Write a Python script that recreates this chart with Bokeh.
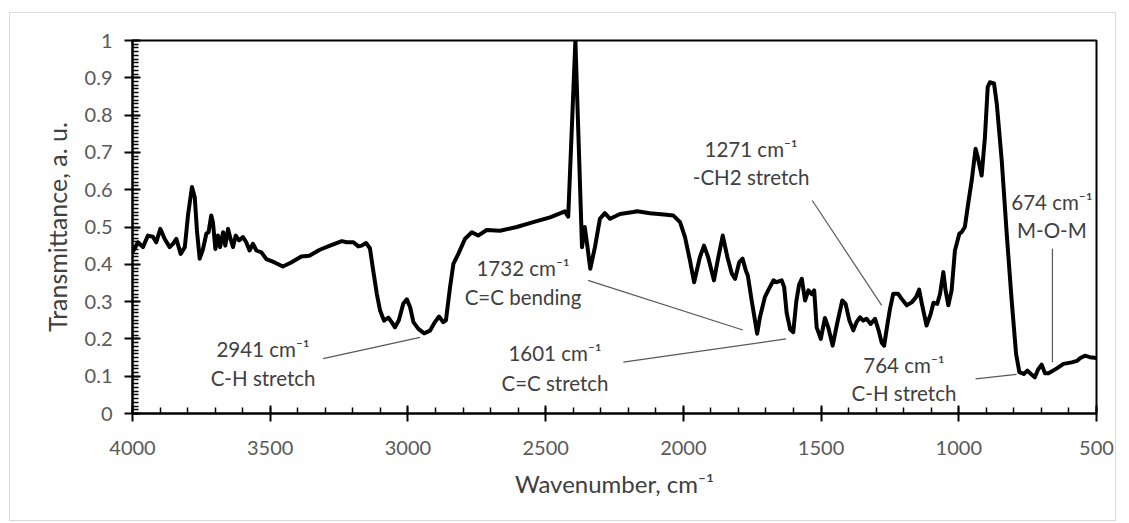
from bokeh.plotting import figure
from bokeh.models import Range1d, FixedTicker, ColumnDataSource
from bokeh.core.properties import value
from bokeh.embed import file_html
from bokeh.resources import INLINE

# FTIR spectrum: wavenumber (cm^-1) and transmittance (a.u.)
wavenumber = [
    4000, 3980, 3962, 3944, 3926, 3914, 3899, 3883, 3865, 3853,
    3841, 3825, 3810, 3798, 3784, 3774, 3766, 3756, 3744, 3732,
    3724, 3714, 3708, 3699, 3690, 3682, 3671, 3663, 3653, 3644,
    3635, 3625, 3613, 3599, 3587, 3575, 3563, 3550, 3532, 3514,
    3484, 3454, 3424, 3387, 3358, 3320, 3283, 3240, 3222, 3198,
    3180, 3168, 3152, 3138, 3126, 3113, 3101, 3087, 3071, 3059,
    3047, 3033, 3017, 3004, 2992, 2980, 2962, 2941, 2920, 2902,
    2887, 2872, 2862, 2847, 2835, 2817, 2793, 2768, 2745, 2714,
    2666, 2605, 2545, 2484, 2430, 2418, 2392, 2368, 2358, 2348,
    2338, 2321, 2303, 2285, 2266, 2230, 2182, 2168, 2121, 2061,
    2037, 2012, 1994, 1976, 1961, 1940, 1925, 1910, 1889, 1873,
    1857, 1840, 1824, 1812, 1797, 1785, 1773, 1766, 1752, 1732,
    1722, 1704, 1692, 1673, 1661, 1643, 1634, 1625, 1612, 1601,
    1590, 1580, 1570, 1558, 1546, 1534, 1525, 1516, 1501, 1486,
    1474, 1458, 1442, 1423, 1411, 1397, 1383, 1371, 1359, 1347,
    1335, 1320, 1304, 1290, 1280, 1271, 1260, 1250, 1238, 1220,
    1208, 1189, 1171, 1155, 1144, 1134, 1117, 1102, 1092, 1078,
    1068, 1056, 1048, 1038, 1026, 1014, 998, 990, 978, 966,
    953, 939, 932, 917, 905, 895, 887, 872, 862, 844,
    826, 808, 792, 780, 764, 751, 738, 724, 712, 699,
    687, 674, 644, 620, 590, 571, 560, 542, 524, 500,
]
transmittance = [
    0.432, 0.459, 0.446, 0.477, 0.474, 0.459, 0.495, 0.468, 0.446, 0.455,
    0.468, 0.428, 0.446, 0.535, 0.607, 0.580, 0.490, 0.415, 0.441, 0.482,
    0.486, 0.531, 0.513, 0.441, 0.477, 0.446, 0.486, 0.450, 0.495, 0.468,
    0.446, 0.477, 0.464, 0.473, 0.459, 0.437, 0.455, 0.437, 0.432, 0.414,
    0.405, 0.394, 0.405, 0.421, 0.423, 0.439, 0.450, 0.462, 0.459, 0.459,
    0.448, 0.450, 0.457, 0.443, 0.383, 0.321, 0.276, 0.249, 0.257, 0.245,
    0.231, 0.250, 0.294, 0.306, 0.285, 0.245, 0.227, 0.215, 0.222, 0.245,
    0.260, 0.245, 0.250, 0.339, 0.401, 0.428, 0.468, 0.486, 0.477, 0.492,
    0.490, 0.500, 0.513, 0.526, 0.542, 0.528, 1.000, 0.446, 0.500, 0.446,
    0.388, 0.446, 0.522, 0.537, 0.522, 0.535, 0.540, 0.542, 0.537, 0.533,
    0.531, 0.513, 0.473, 0.410, 0.352, 0.419, 0.450, 0.419, 0.357, 0.419,
    0.477, 0.419, 0.375, 0.361, 0.406, 0.415, 0.383, 0.370, 0.303, 0.214,
    0.258, 0.312, 0.330, 0.357, 0.352, 0.357, 0.339, 0.270, 0.225, 0.218,
    0.300, 0.345, 0.361, 0.303, 0.330, 0.320, 0.330, 0.231, 0.200, 0.256,
    0.231, 0.182, 0.240, 0.303, 0.294, 0.249, 0.223, 0.245, 0.258, 0.249,
    0.254, 0.240, 0.254, 0.220, 0.190, 0.182, 0.235, 0.280, 0.321, 0.321,
    0.308, 0.290, 0.298, 0.312, 0.332, 0.294, 0.236, 0.267, 0.297, 0.294,
    0.321, 0.379, 0.330, 0.290, 0.330, 0.437, 0.482, 0.486, 0.500, 0.562,
    0.625, 0.710, 0.690, 0.638, 0.741, 0.875, 0.888, 0.885, 0.830, 0.678,
    0.482, 0.303, 0.160, 0.111, 0.106, 0.115, 0.106, 0.097, 0.118, 0.131,
    0.108, 0.108, 0.121, 0.133, 0.137, 0.141, 0.148, 0.155, 0.151, 0.149,
]

# Axis ticks
x_ticks = [4000, 3500, 3000, 2500, 2000, 1500, 1000, 500]
x_minor_ticks = list(range(500, 4001, 100))
y_ticks = [0, 0.1, 0.2, 0.3, 0.4, 0.5, 0.6, 0.7, 0.8, 0.9, 1]
y_tick_labels = ["0", "0.1", "0.2", "0.3", "0.4", "0.5", "0.6", "0.7", "0.8", "0.9", "1"]
y_minor_ticks = [i / 100 for i in range(0, 101)]

# Band assignments: label lines, label anchor (x, y of each line) and leader line
band_line1 = ["2941 cm⁻¹", "1732 cm⁻¹", "1601 cm⁻¹", "1271 cm⁻¹", "764 cm⁻¹", "674 cm⁻¹"]
band_line2 = ["C-H stretch", "C=C bending", "C=C stretch", "-CH2 stretch", "C-H stretch", "M-O-M"]
label_x = [3526, 2582, 2466, 1754, 1199, 662]
label_y1 = [0.174, 0.389, 0.161, 0.710, 0.129, 0.566]
label_y2 = [0.0965, 0.311, 0.083, 0.633, 0.054, 0.491]
leader_x0 = [3308, 2346, 2218, 1532, 939, 660]
leader_y0 = [0.147, 0.357, 0.1375, 0.571, 0.093, 0.4416]
leader_x1 = [2956, 1784, 1627, 1280, 790, 660]
leader_y1 = [0.204, 0.224, 0.200, 0.290, 0.105, 0.1375]

FONT = "Lato"

p = figure(
    width=1107, height=509,
    x_range=Range1d(4000, 500), y_range=Range1d(0, 1),
    output_backend="svg", toolbar_location=None,
    min_border_left=122, min_border_right=21,
    min_border_top=27, min_border_bottom=109,
)
# chart area with a light border, offset inside the page
p.margin = (12, 0, 0, 9)
p.styles = {"border": "1px solid #d9d9d9"}
p.background_fill_color = "white"
p.border_fill_color = "white"
p.xgrid.visible = False
p.ygrid.visible = False
p.outline_line_color = "black"
p.outline_line_width = 2

# x axis
xa = p.xaxis[0]
xa.ticker = FixedTicker(ticks=x_ticks, minor_ticks=x_minor_ticks)
xa.axis_label = "Wavenumber, cm⁻¹"
xa.axis_line_color = "black"
xa.axis_line_width = 2
xa.major_tick_line_color = "black"
xa.major_tick_line_width = 2
xa.major_tick_in = 8
xa.major_tick_out = 8
xa.minor_tick_line_color = "black"
xa.minor_tick_line_width = 1.5
xa.minor_tick_in = 6
xa.minor_tick_out = 0
xa.major_label_text_font = FONT
xa.major_label_text_font_size = "20px"
xa.major_label_text_color = "#595959"
xa.major_label_standoff = 19
xa.axis_label_text_font = FONT
xa.axis_label_text_font_size = "24px"
xa.axis_label_text_font_style = "normal"
xa.axis_label_text_color = "#404040"
xa.axis_label_standoff = 11

# y axis
ya = p.yaxis[0]
ya.ticker = FixedTicker(ticks=y_ticks, minor_ticks=y_minor_ticks)
ya.major_label_overrides = dict(zip(y_ticks, y_tick_labels))
ya.axis_label = "Transmittance, a. u."
ya.axis_line_color = "black"
ya.axis_line_width = 2
ya.major_tick_line_color = "black"
ya.major_tick_line_width = 2
ya.major_tick_in = 8
ya.major_tick_out = 8
ya.minor_tick_line_color = "black"
ya.minor_tick_line_width = 1.5
ya.minor_tick_in = 6
ya.minor_tick_out = 0
ya.major_label_text_font = FONT
ya.major_label_text_font_size = "20px"
ya.major_label_text_color = "#595959"
ya.major_label_standoff = 12
ya.axis_label_text_font = FONT
ya.axis_label_text_font_size = "25px"
ya.axis_label_text_font_style = "normal"
ya.axis_label_text_color = "#404040"
ya.axis_label_standoff = 10

# spectrum
p.line(wavenumber, transmittance, line_color="black", line_width=4,
       line_join="round", line_cap="round")

# leader lines and band labels
leaders = ColumnDataSource(dict(x0=leader_x0, y0=leader_y0, x1=leader_x1, y1=leader_y1))
p.segment(x0="x0", y0="y0", x1="x1", y1="y1", source=leaders,
          line_color="#595959", line_width=1.2)

labels = ColumnDataSource(dict(x=label_x, y1=label_y1, y2=label_y2,
                               t1=band_line1, t2=band_line2))
for ycol, tcol in (("y1", "t1"), ("y2", "t2")):
    p.text(x="x", y=ycol, text=tcol, source=labels,
           text_font=value(FONT), text_font_size="20.5px",
           text_color="#404040", text_align="center", text_baseline="middle")

open("out.html", "w").write(file_html(p, INLINE))
